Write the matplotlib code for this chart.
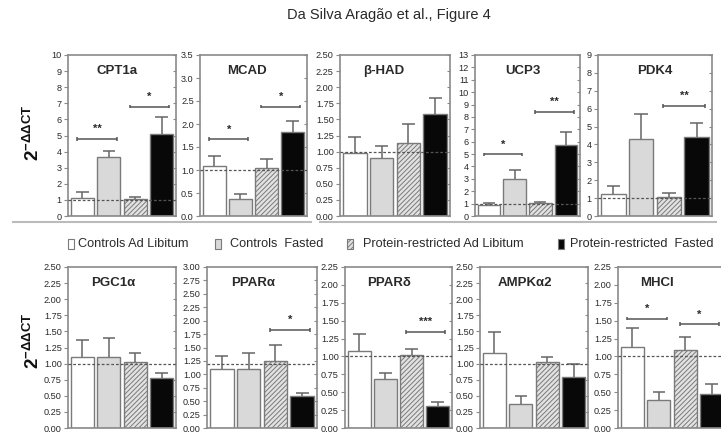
import matplotlib
matplotlib.use("Agg")
import matplotlib.pyplot as plt
from matplotlib.patches import Rectangle
from matplotlib.lines import Line2D
import numpy as np

plt.rcParams["font.family"] = ["Liberation Sans", "DejaVu Sans"]
plt.rcParams["mathtext.fontset"] = "custom"
plt.rcParams["mathtext.rm"] = "Liberation Sans"
plt.rcParams["mathtext.bf"] = "Liberation Sans:bold"
plt.rcParams["hatch.linewidth"] = 0.7

# ---- data -------------------------------------------------------------
groups = ["Controls Ad Libitum", "Controls  Fasted",
          "Protein-restricted Ad Libitum", "Protein-restricted  Fasted"]

genes_top = ["CPT1a", "MCAD", "β-HAD", "UCP3", "PDK4"]
genes_bottom = ["PGC1α", "PPARα", "PPARδ", "AMPKα2", "MHCI"]

mean_cpt1a = [1.14, 3.69, 1.03, 5.11]
sem_cpt1a = [0.36, 0.37, 0.17, 1.06]
mean_mcad = [1.09, 0.37, 1.04, 1.83]
sem_mcad = [0.22, 0.11, 0.19, 0.23]
mean_bhad = [0.98, 0.90, 1.13, 1.59]
sem_bhad = [0.25, 0.19, 0.30, 0.24]
mean_ucp3 = [0.89, 2.96, 1.02, 5.70]
sem_ucp3 = [0.16, 0.74, 0.08, 1.05]
mean_pdk4 = [1.23, 4.30, 1.04, 4.40]
sem_pdk4 = [0.45, 1.40, 0.26, 0.78]

mean_pgc1a = [1.11, 1.11, 1.03, 0.78]
sem_pgc1a = [0.25, 0.29, 0.13, 0.08]
mean_ppara = [1.10, 1.10, 1.24, 0.59]
sem_ppara = [0.25, 0.30, 0.30, 0.06]
mean_ppard = [1.08, 0.68, 1.02, 0.31]
sem_ppard = [0.23, 0.09, 0.09, 0.06]
mean_ampka2 = [1.16, 0.37, 1.02, 0.79]
sem_ampka2 = [0.33, 0.13, 0.09, 0.21]
mean_mhci = [1.13, 0.39, 1.09, 0.47]
sem_mhci = [0.27, 0.11, 0.18, 0.15]

# y-axis range and tick step of each panel
ymax_top = [10, 3.5, 2.5, 13, 9]
ystep_top = [1, 0.5, 0.25, 1, 1]
ymax_bottom = [2.5, 3.0, 2.25, 2.5, 2.25]
ystep_bottom = [0.25, 0.25, 0.25, 0.25, 0.25]

# reference (calibrator) level per panel
ref_top = [1, 1, 1, 1, 1]
ref_bottom = [1, 1.2, 1, 1, 1]

# significant pairwise comparisons: (bar i, bar j, bracket height, label)
sig_top = [
    [(0, 1, 4.8, "**"), (2, 3, 6.8, "*")],
    [(0, 1, 1.67, "*"), (2, 3, 2.38, "*")],
    [],
    [(0, 1, 4.97, "*"), (2, 3, 8.4, "**")],
    [(2, 3, 6.15, "**")],
]
sig_bottom = [
    [],
    [(2, 3, 1.83, "*")],
    [(2, 3, 1.34, "***")],
    [],
    [(0, 1, 1.53, "*"), (2, 3, 1.45, "*")],
]

means_top = [mean_cpt1a, mean_mcad, mean_bhad, mean_ucp3, mean_pdk4]
sems_top = [sem_cpt1a, sem_mcad, sem_bhad, sem_ucp3, sem_pdk4]
means_bottom = [mean_pgc1a, mean_ppara, mean_ppard, mean_ampka2, mean_mhci]
sems_bottom = [sem_pgc1a, sem_ppara, sem_ppard, sem_ampka2, sem_mhci]

# ---- styling ----------------------------------------------------------
W, H = 721, 434
fills = ["white", "#d9d9d9", "#e2e2e2", "#080808"]
hatches = ["", "", "///////", ""]
edge = "#7a7a7a"
spine_col = "#8a8a8a"
err_col = "#666666"
text_col = "#2a2a2a"

fig = plt.figure(figsize=(W / 100, H / 100), dpi=100)
fig.patch.set_facecolor("white")


def px_axes(x0, x1, y0, y1):
    return fig.add_axes([x0 / W, 1 - y1 / H, (x1 - x0) / W, (y1 - y0) / H])


def draw_panel(ax, name, means, sems, ymax, ystep, ref, sigs, title_x):
    x = np.arange(len(means))
    means = np.asarray(means)
    sems = np.asarray(sems)
    for k in range(len(means)):
        ax.bar(x[k], means[k], width=0.88, color=fills[k], edgecolor=edge,
               linewidth=1.0, hatch=hatches[k], zorder=2)
    tops = means + sems
    ax.vlines(x, means, tops, color=err_col, linewidth=1.1, zorder=3)
    ax.hlines(tops, x - 0.24, x + 0.24, color=err_col, linewidth=1.1, zorder=3)
    ax.axhline(ref, color="#555555", linewidth=0.9, linestyle=(0, (2.2, 1.6)),
               zorder=4)
    for i, j, y, lab in sigs:
        xa, xb = i - 0.2, j + 0.3
        d = ymax * 0.012
        ax.hlines(y, xa, xb, color="#555555", linewidth=1.1, zorder=3)
        ax.vlines([xa, xb], y - d, y + d, color="#555555", linewidth=1.1, zorder=3)
        ax.text((xa + xb) / 2, y + ymax * 0.03, lab, ha="center", va="bottom",
                fontsize=8, fontweight="bold", color=text_col)

    ax.set_xlim(-0.55, 3.55)
    ax.set_ylim(0, ymax)
    ax.set_xticks([])
    ticks = np.arange(0, ymax + ystep / 2, ystep)
    ax.set_yticks(ticks)
    dec = 0 if ystep >= 1 else (1 if ystep == 0.5 else 2)
    ax.set_yticklabels([f"{t:.{dec}f}" for t in ticks])
    ax.tick_params(axis="y", direction="out", length=3, width=0.8,
                   color=spine_col, labelsize=6.6, labelcolor=text_col, pad=1.5)
    sec = ax.secondary_yaxis("right")
    sec.set_yticks(ticks)
    sec.tick_params(direction="in", length=2.5, width=0.8, color=spine_col,
                    labelright=False)
    sec.spines["right"].set_visible(False)
    for s in ax.spines.values():
        s.set_color(spine_col)
        s.set_linewidth(1.2)
    ax.text(title_x, 0.9, name, transform=ax.transAxes, ha="center",
            va="center", fontsize=9.5, fontweight="bold", color=text_col)


top_x = [(68, 176), (200, 307), (340, 450), (475, 580), (598, 712)]
bottom_x = [(68, 176), (207, 317), (345, 452), (480, 588), (618, 726)]
top_title_x = [0.45, 0.44, 0.40, 0.46, 0.50]
bottom_title_x = [0.42, 0.42, 0.41, 0.42, 0.36]

for k, (x0, x1) in enumerate(top_x):
    ax = px_axes(x0, x1, 55, 216)
    draw_panel(ax, genes_top[k], means_top[k], sems_top[k], ymax_top[k],
               ystep_top[k], ref_top[k], sig_top[k], top_title_x[k])
    xa = 13 if k == 0 else x0 - 20
    fig.add_artist(Line2D([xa / W, (x1 + 4) / W], [1 - 222 / H, 1 - 222 / H],
                          transform=fig.transFigure, color="#bbbbbb",
                          linewidth=1.5))

for k, (x0, x1) in enumerate(bottom_x):
    ax = px_axes(x0, x1, 267, 428)
    draw_panel(ax, genes_bottom[k], means_bottom[k], sems_bottom[k],
               ymax_bottom[k], ystep_bottom[k], ref_bottom[k], sig_bottom[k],
               bottom_title_x[k])

# y-axis labels
ylab = r"$\mathbf{2^{-\Delta\Delta CT}}$"
fig.text(33 / W, 1 - 133 / H, ylab, rotation=90, ha="center", va="center",
         fontsize=13.5, color="#111111")
fig.text(33 / W, 1 - 341 / H, ylab, rotation=90, ha="center", va="center",
         fontsize=13.5, color="#111111")

# figure title
fig.text(389 / W, 1 - 15 / H, "Da Silva Aragão et al., Figure 4", ha="center",
         va="center", fontsize=10.5, color=text_col)

# legend row
box_x = [68, 215, 347, 558]
text_x = [78, 230, 363, 570]
ly = 244
for k in range(4):
    fig.add_artist(Rectangle((box_x[k] / W, 1 - (ly + 5) / H), 6 / W, 10 / H,
                             transform=fig.transFigure, facecolor=fills[k],
                             edgecolor=edge, linewidth=0.8, hatch=hatches[k]))
    fig.text(text_x[k] / W, 1 - ly / H, groups[k], ha="left", va="center",
             fontsize=9.2, color=text_col)

fig.savefig("out.png", dpi=100, facecolor="white")
